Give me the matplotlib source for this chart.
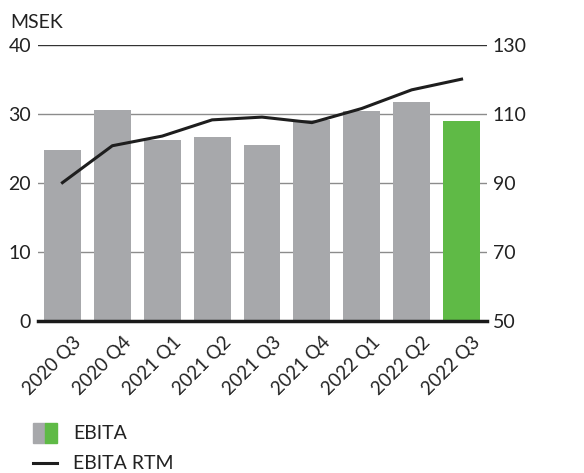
import matplotlib.pyplot as plt
import matplotlib.transforms as mtransforms
from matplotlib.patches import Rectangle
from matplotlib.lines import Line2D

quarters = ["2020 Q3", "2020 Q4", "2021 Q1", "2021 Q2", "2021 Q3",
            "2021 Q4", "2022 Q1", "2022 Q2", "2022 Q3"]
ebita = [24.8, 30.6, 26.2, 26.6, 25.5, 29.2, 30.5, 31.7, 29.0]
ebita_rtm = [90.1, 100.8, 103.6, 108.3, 109.1, 107.5, 111.6, 117.0, 120.1]

gray = "#a7a8ab"
green = "#5fba46"
bar_colors = [gray] * (len(quarters) - 1) + [green]

plt.rcParams["font.family"] = ["Lato", "DejaVu Sans"]

fig = plt.figure(figsize=(5.84, 4.73), dpi=100)
ax = fig.add_axes([38 / 584, 1 - 321 / 473, 449 / 584, 276 / 473])
ax2 = ax.twinx()

x = range(len(quarters))
ax.bar(x, ebita, width=0.74, color=bar_colors, zorder=2)
ax.set_xlim(-0.49, 8.51)
ax.set_ylim(0, 40)
ax.set_yticks([0, 10, 20, 30, 40])
for v in [10, 20, 30]:
    ax.axhline(v, color="#8c8c8c", lw=1.0, zorder=1)
ax.axhline(40, color="#333333", lw=1.0, zorder=1)
ax.axhline(0, color="#1a1a1a", lw=2.5, zorder=3, clip_on=False)

ax2.plot(x, ebita_rtm, color="#1e1e1e", lw=2.2, zorder=4)
ax2.set_ylim(50, 130)
ax2.set_yticks([50, 70, 90, 110, 130])

for a in (ax, ax2):
    for s in a.spines.values():
        s.set_visible(False)
    a.tick_params(length=0, labelsize=14, colors="#222222")
ax.tick_params(axis="y", pad=5)
ax2.tick_params(axis="y", pad=4)

ax.set_xticks(list(x))
ax.set_xticklabels(quarters, rotation=45, ha="right", rotation_mode="anchor",
                   fontsize=13.5)
ax.tick_params(axis="x", pad=9)
shift = mtransforms.ScaledTranslation(10 / 100, 0, fig.dpi_scale_trans)
for lbl in ax.get_xticklabels():
    lbl.set_transform(lbl.get_transform() + shift)

fig.text(10 / 584, 1 - 22 / 473, "MSEK", fontsize=14, color="#222222",
         va="center", ha="left")

# legend
fig.patches.append(Rectangle((33 / 584, 1 - 443 / 473), 12 / 584, 20 / 473,
                             transform=fig.transFigure, color=gray))
fig.patches.append(Rectangle((45 / 584, 1 - 443 / 473), 12 / 584, 20 / 473,
                             transform=fig.transFigure, color=green))
fig.text(73 / 584, 1 - 433 / 473, "EBITA", fontsize=14, color="#222222",
         va="center")
fig.lines.append(Line2D([33 / 584, 57 / 584], [1 - 463 / 473] * 2,
                        transform=fig.transFigure, color="#1e1e1e", lw=2.2))
fig.text(73 / 584, 1 - 463 / 473, "EBITA RTM", fontsize=14, color="#222222",
         va="center")

fig.savefig("out.png", dpi=100)
